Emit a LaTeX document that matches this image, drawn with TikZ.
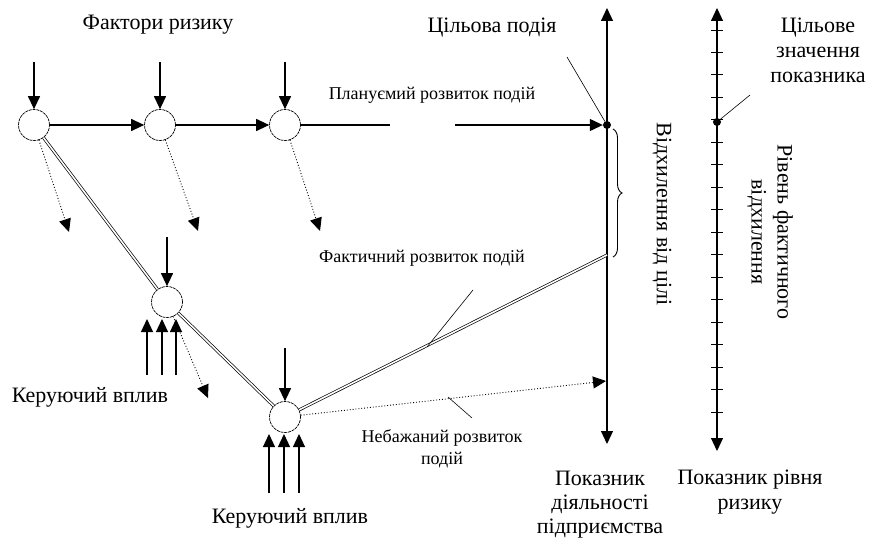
\documentclass[tikz,border=0pt]{standalone}
\usepackage{fontspec}
\setmainfont{Liberation Serif}
\usetikzlibrary{arrows.meta,decorations.pathreplacing}
\tikzset{
  tip/.style={Triangle[length=13pt,width=12pt]},
  circ/.style={circle,draw,line width=0.7pt,dash pattern=on 3pt off 0.8pt,minimum size=31pt,inner sep=0pt},
  arr/.style={line width=1.2pt,-{Triangle[length=13pt,width=12pt]}},
  plain/.style={line width=1.2pt},
  dbl/.style={draw,line width=0.7pt,double=white,double distance=1.6pt},
  dotarr/.style={line width=0.9pt,dotted,-{Triangle[length=13pt,width=12pt]}},
  leader/.style={line width=0.6pt},
  dotnode/.style={circle,fill,inner sep=0pt,minimum size=8pt},
  big/.style={font=\fontsize{22}{25}\selectfont,align=center},
  small/.style={font=\fontsize{18}{22}\selectfont,align=center},
}
\begin{document}
\begin{tikzpicture}[x=1pt,y=-1pt]
\useasboundingbox (0,0) rectangle (875,543);
% circles
\node[circ] (n1) at (34,125) {};
\node[circ] (n2) at (160,125) {};
\node[circ] (n3) at (285,125) {};
\node[circ] (n4) at (167,302) {};
\node[circ] (n5) at (285,417) {};
% top risk arrows
\coordinate (t1) at (34,62);
\coordinate (t2) at (160,62);
\coordinate (t3) at (285,62);
\coordinate (t4) at (167,237);
\coordinate (t5) at (285,348);
\foreach \i in {1,...,5} \draw[arr] (t\i) -- (n\i);
% control arrows
\foreach \x [count=\k] in {147,162,176} {
  \coordinate (c4\k) at (\x,375);
  \coordinate (e4\k) at (\x,319);
  \draw[arr] (c4\k) -- (e4\k);
}
\foreach \x [count=\k] in {269,284,299} {
  \coordinate (c5\k) at (\x,493);
  \coordinate (e5\k) at (\x,434);
  \draw[arr] (c5\k) -- (e5\k);
}
% planned development
\node[dotnode] (dot1) at (607,125) {};
\coordinate (g1) at (390,125);
\coordinate (g2) at (455,125);
\draw[arr] (n1) -- (n2);
\draw[arr] (n2) -- (n3);
\draw[plain] (n3) -- (g1);
\draw[arr] (g2) -- (dot1.west);
% axis 1
\coordinate (a1t) at (607,8);
\coordinate (a1b) at (607,444);
\draw[line width=1.2pt,{Triangle[length=13pt,width=12pt]}-{Triangle[length=13pt,width=12pt]}] (a1t) -- (a1b);
% axis 2
\coordinate (a2t) at (717,8);
\coordinate (a2b) at (717,451);
\draw[line width=1.2pt,{Triangle[length=13pt,width=12pt]}-{Triangle[length=13pt,width=12pt]}] (a2t) -- (a2b);
\foreach \k in {0,...,17} \draw[line width=0.9pt] (711,{30+22.47*\k}) -- (723,{30+22.47*\k});
\node[dotnode] (dot2) at (717,122) {};
% actual development (double line)
\coordinate (e1) at (607,255);
\draw[dbl] (n1) -- (n4);
\draw[dbl] (n4) -- (n5);
\draw[dbl] (n5) -- (e1);
% dotted deviations
\coordinate (d1) at (69,232);
\coordinate (d2) at (198,231);
\coordinate (d3) at (320,231);
\coordinate (d4) at (208,398);
\coordinate (d5) at (606,381);
\foreach \i in {1,...,5} \draw[dotarr] (n\i) -- (d\i);
% brace
\draw[line width=0.9pt,decorate,decoration={brace,amplitude=9pt}] (613,129) -- (613,257);
% leaders
\coordinate (l1) at (567,57);
\draw[leader] (l1) -- (dot1);
\coordinate (l2) at (750,95);
\draw[leader] (l2) -- (dot2);
\coordinate (l3a) at (473,290);
\coordinate (l3b) at (427,347);
\draw[leader] (l3a) -- (l3b);
\coordinate (l4a) at (448,397);
\coordinate (l4b) at (472,418);
\draw[leader] (l4a) -- (l4b);
% texts
\node[big] (tf) at (158,25) {Фактори ризику};
\node[big] (tc) at (492,28) {Цільова подія};
\node[small] (tp) at (432,95) {Плануємий розвиток подій};
\node[big] (tz) at (818,50) {Цільове\\значення\\показника};
\node[small] (ta) at (422,258) {Фактичний розвиток подій};
\node[small] (tn) at (442,449) {Небажаний розвиток\\подій};
\node[big] (tk1) at (90,397) {Керуючий вплив};
\node[big] (tk2) at (290,518) {Керуючий вплив};
\node[big,font=\fontsize{22}{24}\selectfont] (tpd) at (600,505) {Показник\\діяльності\\підприємства};
\node[big] (tpr) at (750,492) {Показник рівня\\ризику};
\node[big,rotate=-90] (tv) at (662,214) {Відхилення від цілі};
\node[big,rotate=-90,font=\fontsize{22}{26}\selectfont] (tr) at (770,232) {Рівень фактичного\\відхилення};
\end{tikzpicture}
\end{document}
